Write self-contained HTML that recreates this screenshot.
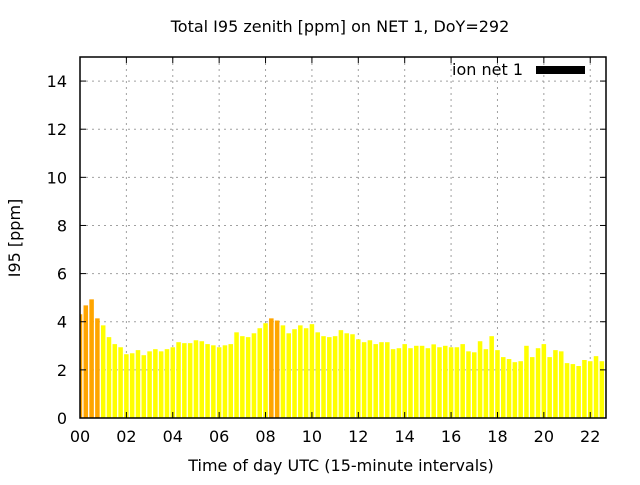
<!DOCTYPE html>
<html><head><meta charset="utf-8">
<style>
body{margin:0;background:#fff;}
svg text{font-family:"DejaVu Sans","Liberation Sans",sans-serif;font-size:16px;fill:#000;}
</style></head>
<body>
<svg id="chart" width="640" height="480" viewBox="0 0 640 480" xmlns="http://www.w3.org/2000/svg">
<rect width="640" height="480" fill="#fff"/>
<g id="grid"></g>
<g id="bars"></g>
<g id="axes"></g>
<text x="340" y="32" text-anchor="middle">Total I95 zenith [ppm] on NET 1, DoY=292</text>
<text x="341" y="471" text-anchor="middle">Time of day UTC (15-minute intervals)</text>
<text x="20" y="238" text-anchor="middle" transform="rotate(-90 20 238)">I95 [ppm]</text>
<g>
<text x="523" y="75" text-anchor="end">ion net 1</text>
<rect x="536" y="66" width="49" height="8" fill="#000"/>
</g>
</svg>
<script>
const values = [4.31,4.68,4.93,4.14,3.85,3.36,3.07,2.94,2.65,2.69,2.82,2.61,2.77,2.86,2.77,2.86,2.94,3.15,3.11,3.11,3.23,3.19,3.07,3.02,2.94,3.02,3.07,3.56,3.40,3.36,3.52,3.73,3.94,4.14,4.05,3.85,3.52,3.69,3.85,3.73,3.9,3.56,3.40,3.36,3.40,3.65,3.52,3.48,3.27,3.15,3.23,3.07,3.15,3.15,2.86,2.9,3.07,2.9,3.0,3.0,2.9,3.06,2.94,3.0,2.94,2.94,3.07,2.77,2.73,3.19,2.86,3.40,2.82,2.53,2.45,2.32,2.36,3.0,2.53,2.9,3.07,2.53,2.82,2.77,2.28,2.24,2.16,2.41,2.36,2.57,2.36,2.24];
const xTicks = [0,2,4,6,8,10,12,14,16,18,20,22];
const xTickLabels = ["00","02","04","06","08","10","12","14","16","18","20","22"];
const yTicks = [0,2,4,6,8,10,12,14];
const threshold = [4];
const NS="http://www.w3.org/2000/svg";
const L=80,R=606,T=57,B=418,XMAX=22.68,YMAX=15;
const xs=h=>L+h/XMAX*(R-L);
const ys=v=>B-v/YMAX*(B-T);
function mk(tag,attrs,parent){const e=document.createElementNS(NS,tag);for(const k in attrs)e.setAttribute(k,attrs[k]);parent.appendChild(e);return e;}
const grid=document.getElementById('grid'),bars=document.getElementById('bars'),axes=document.getElementById('axes');
xTicks.forEach((t,i)=>{const x=xs(t);
 if(t>0){const g=mk('line',{x1:x,x2:x,y1:T,y2:B,stroke:'#a0a0a0','stroke-dasharray':'2,4'},grid);
 
 }
 mk('line',{x1:x,x2:x,y1:B,y2:B-6,stroke:'#000'},axes);
 mk('line',{x1:x,x2:x,y1:T,y2:T+6,stroke:'#000'},axes);
 const tx=mk('text',{x:x,y:B+24,'text-anchor':'middle'},axes);tx.textContent=xTickLabels[i];
 
 
});
yTicks.forEach(t=>{const y=ys(t);
 if(t>0){const g=mk('line',{x1:L,x2:R,y1:y,y2:y,stroke:'#a0a0a0','stroke-dasharray':'2,4'},grid);
 
 }
 mk('line',{x1:L,x2:L+6,y1:y,y2:y,stroke:'#000'},axes);
 mk('line',{x1:R,x2:R-6,y1:y,y2:y,stroke:'#000'},axes);
 const tx=mk('text',{x:L-13,y:y+6,'text-anchor':'end'},axes);tx.textContent=String(t);
 
 
});
const step=xs(0.25)-xs(0), bw=step*0.78;
values.forEach((v,i)=>{const cx=xs(i*0.25);let x0=cx-bw/2,x1=cx+bw/2;
 x0=Math.max(x0,L);x1=Math.min(x1,R);if(x1<=x0)return;
 const b=mk('rect',{x:x0,y:ys(v),width:x1-x0,height:B-ys(v),fill:v>=threshold[0]?'#ffa500':'#ffff00'},bars);
 
 
});
const f=mk('rect',{x:L,y:T,width:R-L,height:B-T,fill:'none',stroke:'#000','stroke-width':1.5},axes);


</script>
</body></html>
